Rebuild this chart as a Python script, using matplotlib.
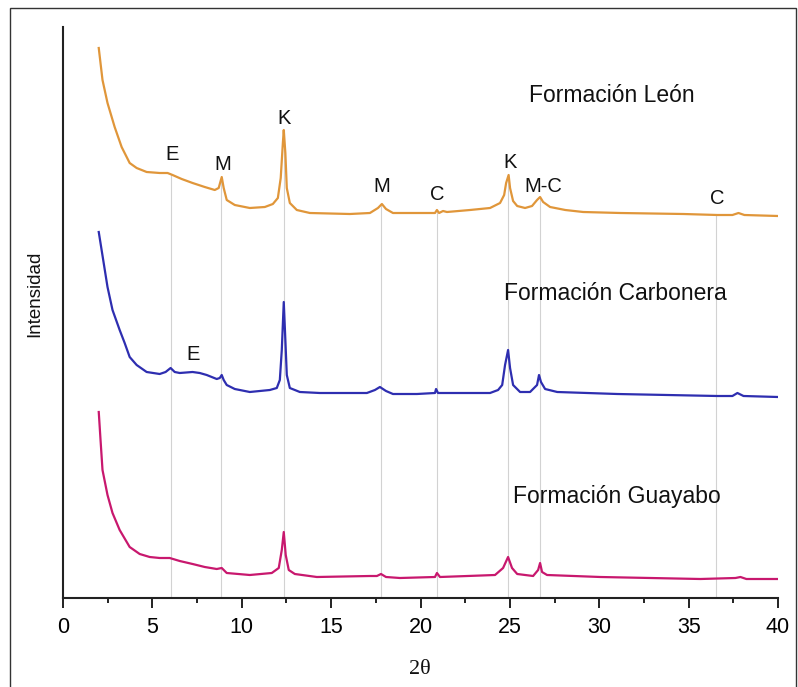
"""
Difractogramas de rayos X (fraccion arcilla) para tres formaciones.
Curvas desplazadas verticalmente, con los picos identificados:
E = esmectita, M = mica/illita, K = caolinita, C = clorita.
"""

import matplotlib.pyplot as plt
from matplotlib.patches import Rectangle
from matplotlib.ticker import MultipleLocator
import numpy as np

plt.rcParams["font.family"] = ["Liberation Sans", "DejaVu Sans"]

# Formación León (naranja)
leon_2theta = [2.0, 2.21, 2.49, 2.89, 3.28, 3.73, 4.12, 4.68, 5.41, 5.85, 6.13, 6.64, 7.25,
               7.93, 8.49, 8.71, 8.88, 8.99, 9.16, 9.61, 10.45, 11.29, 11.74, 12.02, 12.18,
               12.30, 12.35, 12.44, 12.52, 12.69, 13.08, 13.81, 16.05, 17.17, 17.62, 17.84,
               18.07, 18.46, 19.97, 20.81, 20.92, 21.04, 21.26, 21.48, 22.77, 23.89, 24.45,
               24.68, 24.79, 24.93, 25.01, 25.18, 25.41, 25.85, 26.24, 26.52, 26.69, 26.86,
               27.25, 28.10, 29.10, 31.18, 34.71, 36.61, 37.45, 37.79, 38.12, 40.0]
leon_int = [550, 518, 495, 471, 451, 435, 430, 426, 425, 425, 423, 419, 415,
            411, 408, 410, 421, 410, 398, 393, 390, 391, 394, 400, 420,
            455, 468, 445, 410, 395, 388, 385, 384, 385, 390, 394,
            389, 385, 385, 385, 388, 385, 387, 386, 388, 390, 395,
            403, 415, 423, 410, 397, 392, 390, 392, 398, 401, 396,
            391, 388, 386, 385, 384, 383, 383, 385, 383, 382]

# Formación Carbonera (azul)
carbonera_2theta = [2.0, 2.49, 2.77, 3.17, 3.45, 3.73, 4.12, 4.68, 5.41, 5.74, 6.02, 6.25,
                    6.53, 7.25, 7.65, 8.04, 8.60, 8.77, 8.88, 8.99, 9.16, 9.61, 10.45, 11.57,
                    11.96, 12.13, 12.24, 12.35, 12.44, 12.52, 12.69, 13.25, 14.37, 17.00,
                    17.45, 17.73, 18.07, 18.46, 19.80, 20.81, 20.87, 20.98, 23.89, 24.34,
                    24.57, 24.73, 24.90, 25.01, 25.18, 25.57, 26.13, 26.52, 26.63, 26.74,
                    26.97, 27.65, 31.01, 36.61, 37.45, 37.73, 38.07, 40.0]
carbonera_int = [366, 311, 288, 268, 255, 241, 233, 226, 224, 226, 230, 226,
                 225, 226, 225, 223, 219, 220, 223, 218, 213, 209, 206, 208,
                 210, 218, 248, 296, 258, 223, 210, 206, 205, 205,
                 208, 211, 207, 204, 204, 205, 209, 205, 205, 208,
                 213, 233, 248, 230, 213, 206, 206, 213, 223, 216,
                 209, 206, 204, 202, 202, 205, 202, 201]

# Formación Guayabo (magenta)
guayabo_2theta = [2.0, 2.1, 2.21, 2.49, 2.77, 3.17, 3.73, 4.29, 4.85, 5.41, 5.97, 6.53,
                  7.25, 7.93, 8.60, 8.88, 9.16, 10.45, 11.68, 12.07, 12.24, 12.35, 12.46,
                  12.63, 12.97, 14.20, 17.17, 17.56, 17.79, 18.07, 18.85, 20.81, 20.92,
                  21.09, 24.17, 24.62, 24.90, 25.12, 25.41, 26.30, 26.58, 26.69, 26.80,
                  27.08, 30.06, 35.66, 37.62, 37.90, 38.23, 40.0]
guayabo_int = [186, 158, 128, 103, 85, 68, 51, 44, 41, 40, 40, 37,
               34, 31, 29, 30, 25, 23, 25, 30, 48, 66, 43,
               28, 24, 21, 22, 22, 24, 21, 20, 21, 25,
               21, 23, 30, 41, 30, 24, 22, 28, 35, 26,
               23, 21, 19, 20, 21, 19, 19]

# Posiciones de los picos marcados (lineas de referencia)
peak_pos = [6.05, 8.85, 12.35, 17.8, 20.9, 24.9, 26.7, 36.55]

# Etiquetas de los minerales: (texto, 2theta, intensidad)
peak_labels = ["E", "M", "K", "M", "C", "K", "M-C", "C", "E"]
peak_label_x = [6.09, 8.94, 12.35, 17.84, 20.92, 25.01, 26.86, 36.61, 7.25]
peak_label_y = [443, 433, 480, 411, 404, 435, 412, 399, 243]

formations = ["Formación León", "Formación Carbonera", "Formación Guayabo"]
formation_x = [30.73, 30.9, 31.0]
formation_y = [502, 305, 102]


def main():
    fig = plt.figure(figsize=(7.98, 6.87), dpi=100)
    ax = fig.add_axes([63 / 798, 1 - 598 / 687, 715 / 798, 571 / 687])

    # lineas verticales grises desde la curva superior hasta el eje
    for x in peak_pos:
        top = np.interp(x, leon_2theta, leon_int)
        ax.vlines(x, 0, top, color="#d2d2d2", lw=0.8, zorder=1)

    ax.plot(leon_2theta, leon_int, color="#E0963A", lw=1.6, zorder=3)
    ax.plot(carbonera_2theta, carbonera_int, color="#2E2EB0", lw=1.6, zorder=3)
    ax.plot(guayabo_2theta, guayabo_int, color="#C8186E", lw=1.6, zorder=3)

    for lab, x, y in zip(peak_labels, peak_label_x, peak_label_y):
        ax.text(x, y, lab, ha="center", va="center", fontsize=14.5, color="#111111")

    for name, x, y in zip(formations, formation_x, formation_y):
        ax.text(x, y, name, ha="center", va="center", fontsize=16.5, color="#111111")

    ax.set_xlim(0, 40)
    ax.set_ylim(0, 571)
    ax.set_yticks([])
    ax.xaxis.set_major_locator(MultipleLocator(5))
    ax.xaxis.set_minor_locator(MultipleLocator(2.5))
    ax.tick_params(axis="x", which="major", direction="out", length=7.5, width=1.4,
                   labelsize=15.5, pad=6, color="#222222")
    ax.tick_params(axis="x", which="minor", direction="out", length=3.8, width=1.4,
                   color="#222222")
    for side in ["top", "right"]:
        ax.spines[side].set_visible(False)
    for side in ["left", "bottom"]:
        ax.spines[side].set_linewidth(1.5)
        ax.spines[side].set_color("#222222")

    fig.text(35 / 798, 1 - 294 / 687, "Intensidad", rotation=90, ha="center",
             va="center", fontsize=13.5, color="#111111")
    fig.text(420 / 798, 1 - 670 / 687, "2θ", ha="center", va="center",
             fontsize=16, color="#111111", family=["Liberation Serif", "DejaVu Serif"])

    # marco exterior de la figura
    fig.add_artist(Rectangle((10 / 798, -0.05), 786 / 798, 1.05 - 8 / 687,
                             transform=fig.transFigure, fill=False,
                             edgecolor="#333333", lw=1.0, clip_on=False))

    fig.savefig("out.png", dpi=100)


if __name__ == "__main__":
    main()
